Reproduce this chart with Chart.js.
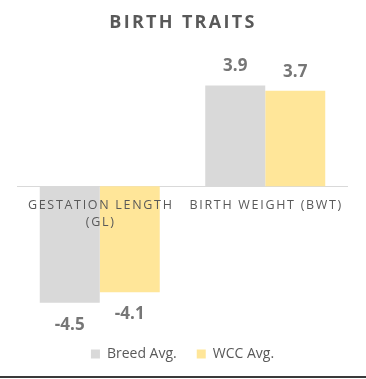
<!DOCTYPE html>
<html>
<head>
<meta charset="utf-8">
<script src="https://cdn.jsdelivr.net/npm/chart.js@4/dist/chart.umd.min.js"></script>
<style>
  body{margin:0;background:#fff;}
  #wrap{width:366px;height:376px;position:relative;}
  #edge{width:366px;height:2px;background:#3a3a3a;}
</style>
</head>
<body>
<div id="wrap"><canvas id="chart"></canvas></div>
<div id="edge"></div>
<script>
// data
const categories=[["GESTATION LENGTH","(GL)"],["BIRTH WEIGHT (BWT)"]]
const breedAvg=[-4.5,3.9]
const wccAvg=[-4.1,3.7]
const seriesNames=["Breed Avg.","WCC Avg."]
const chartTitle="BIRTH TRAITS"

const FONT="'Open Sans', sans-serif"

// title, zero line, category labels and value labels
const decor={
  id:"decor",
  beforeDatasetsDraw(chart){
    const {ctx,chartArea,scales}=chart
    const y0=Math.round(scales.y.getPixelForValue(0))+0.5
    ctx.save()
    ctx.strokeStyle="#d9d9d9"
    ctx.lineWidth=1
    ctx.beginPath()
    ctx.moveTo(chartArea.left,y0)
    ctx.lineTo(chartArea.right,y0)
    ctx.stroke()
    ctx.restore()
  },
  afterDatasetsDraw(chart){
    const {ctx,scales}=chart
    ctx.save()
    // title
    ctx.fillStyle="#595959"
    ctx.font="bold 18px "+FONT
    ctx.textAlign="center"
    ctx.textBaseline="middle"
    ctx.letterSpacing="2.3px"
    ctx.fillText(chartTitle,chart.width/2,23)
    // category labels sitting on the zero line
    ctx.font="12.5px "+FONT
    ctx.letterSpacing="1.7px"
    const y0=scales.y.getPixelForValue(0)
    categories.forEach((lines,i)=>{
      const x=scales.x.getPixelForValue(i)
      lines.forEach((t,j)=>ctx.fillText(t,x+1,y0+19+j*17))
    })
    // value labels
    ctx.letterSpacing="0px"
    ctx.font="bold 17px "+FONT
    ctx.fillStyle="#767676"
    chart.data.datasets.forEach((ds,d)=>{
      chart.getDatasetMeta(d).data.forEach((bar,i)=>{
        const v=ds.data[i]
        const ty=v>=0 ? bar.y-19 : bar.y+22
        ctx.fillText(v.toFixed(1),bar.x,ty)
      })
    })
    ctx.restore()
  }
}

new Chart(document.getElementById("chart"),{
  type:"bar",
  data:{
    labels:categories,
    datasets:[
      {label:seriesNames[0],data:breedAvg,backgroundColor:"#d9d9d9"},
      {label:seriesNames[1],data:wccAvg,backgroundColor:"#ffe699"}
    ]
  },
  options:{
    responsive:true,
    maintainAspectRatio:false,
    animation:false,
    layout:{padding:{top:70,left:17,right:18,bottom:5}},
    datasets:{bar:{categoryPercentage:0.725,barPercentage:1}},
    plugins:{
      legend:{
        position:"bottom",
        labels:{
          boxWidth:9,
          boxHeight:9,
          color:"#595959",
          font:{family:FONT,size:14},
          padding:20
        }
      },
      tooltip:{enabled:false}
    },
    scales:{
      x:{display:false},
      y:{display:false,min:-5.44,max:4.5}
    }
  },
  plugins:[decor]
})
</script>
</body>
</html>
